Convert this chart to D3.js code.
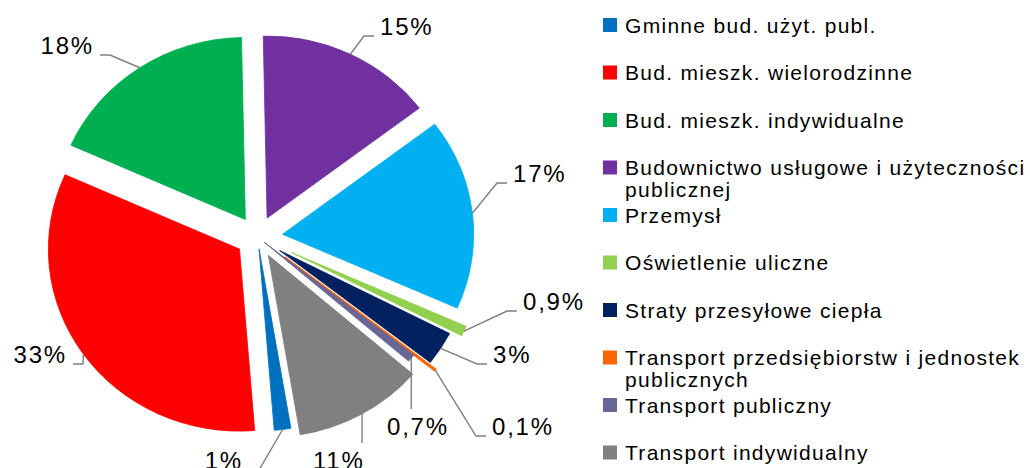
<!DOCTYPE html>
<html>
<head>
<meta charset="utf-8">
<script src="https://cdn.jsdelivr.net/npm/d3@7"></script>
<style>
  html, body { margin: 0; padding: 0; background: #fff; }
  svg { display: block; font-family: "Liberation Sans", Arial, sans-serif; }
</style>
</head>
<body>
<svg id="chart" width="1030" height="468"></svg>
<script>
"use strict"

// chart data, in legend order (= clockwise order of the slices)
var categories = [
    "Gminne bud. użyt. publ.",
    "Bud. mieszk. wielorodzinne",
    "Bud. mieszk. indywidualne",
    "Budownictwo usługowe i użyteczności\npublicznej",
    "Przemysł",
    "Oświetlenie uliczne",
    "Straty przesyłowe ciepła",
    "Transport przedsiębiorstw i jednostek\npublicznych",
    "Transport publiczny",
    "Transport indywidualny"
];
var shares = [1.4, 33, 18, 15, 17, 0.9, 3, 0.1, 0.7, 11];
var shareLabels = ["1%", "33%", "18%", "15%", "17%", "0,9%", "3%", "0,1%", "0,7%", "11%"];
var colors = ["#0070C0", "#FF0000", "#00B050", "#7030A0", "#00B0F0",
              "#92D050", "#002060", "#FF6600", "#666699", "#808080"];

// layout
var CX = 257.5, CY = 237;       // pie centre
var RADIUS = 182;
var STRETCH = 1.05;             // picture is slightly wider than tall
var START = 170.4;              // angle of first slice, degrees
var explode = [12, 21, 21, 21, 24, 36, 25, 33, 8, 21];
// label text position: x, baseline, side of the leader (l = text left of point, r = right, b = below)
var labelAt = [[243, 469, "l"], [67, 363, "l"], [94, 54, "l"], [380, 35, "r"], [513, 182, "r"],
               [523, 310, "r"], [493, 363, "r"], [492, 435, "r"], [387, 435, "b"], [313, 469, "b"]];

var svg = d3.select("#chart");

var pie = d3.pie().sort(null).value(function(d){ return d; })
    .startAngle(START * Math.PI / 180)
    .endAngle(START * Math.PI / 180 + 2 * Math.PI);

var arc = d3.arc().innerRadius(0).outerRadius(RADIUS);
var arcs = pie(shares);

var pieG = svg.append("g")
    .attr("transform", "translate(" + CX + "," + CY + ") scale(" + STRETCH + ",1)");

pieG.selectAll("path.slice").data(arcs).enter().append("path")
    .attr("class", "slice")
    .attr("d", arc)
    .attr("fill", function(d, i){ return colors[i]; })
    .attr("stroke", function(d, i){ return colors[i]; })
    .attr("stroke-width", function(d){ return d.value < 0.5 ? 2 : 0.8; })  //keep the tiny one visible
    .attr("transform", function(d, i){
        var mid = (d.startAngle + d.endAngle) / 2;
        return "translate(" + (explode[i] * Math.sin(mid)) + "," + (-explode[i] * Math.cos(mid)) + ")";
    });

// point on the outer arc at the slice's middle angle, in page coords
function edgePoint(d, i){
    var mid = (d.startAngle + d.endAngle) / 2;
    var r = RADIUS + explode[i];
    return [CX + STRETCH * r * Math.sin(mid), CY - r * Math.cos(mid)];
}

var line = d3.line();

var labels = svg.append("g").attr("class", "labels");

arcs.forEach(function(d, i){
    var p = edgePoint(d, i);
    var x = labelAt[i][0], base = labelAt[i][1], side = labelAt[i][2];
    var pts;
    if(side === "r"){
        pts = [p, [x - 16, base + 1], [x - 6, base + 1]];
    }else if(side === "l"){
        pts = [p, [x + 16, base + 1], [x + 6, base + 1]];
    }else{
        pts = [p, [p[0], base - 26]];
    }
    labels.append("path")
        .attr("d", line(pts))
        .attr("fill", "none")
        .attr("stroke", "#7f7f7f")
        .attr("stroke-width", 1.4);

    labels.append("text")
        .attr("x", x)
        .attr("y", base)
        .attr("text-anchor", side === "l" ? "end" : "start")
        .attr("font-size", "24px")
        .attr("letter-spacing", "1.8px")
        .attr("fill", "#000")
        .text(shareLabels[i]);
});

// legend
var LEG_X = 603, LEG_Y = 25, LEG_STEP = 47.5, BOX = 14;

var legend = svg.append("g").attr("class", "legend");
var items = legend.selectAll("g.item").data(categories).enter().append("g")
    .attr("class", "item")
    .attr("transform", function(d, i){ return "translate(" + LEG_X + "," + (LEG_Y + i * LEG_STEP) + ")"; });

items.append("rect")
    .attr("x", 0).attr("y", -BOX / 2)
    .attr("width", BOX).attr("height", BOX)
    .attr("fill", function(d, i){ return colors[i]; });

items.each(function(d){
    var t = d3.select(this).append("text")
        .attr("x", 22)
        .attr("y", 7.5)
        .attr("font-size", "21px")
        .attr("letter-spacing", "1.3px")
        .attr("fill", "#000");
    d.split("\n").forEach(function(part, k){
        t.append("tspan").attr("x", 22).attr("dy", k === 0 ? 0 : 22).text(part);
    });
});
</script>
</body>
</html>
